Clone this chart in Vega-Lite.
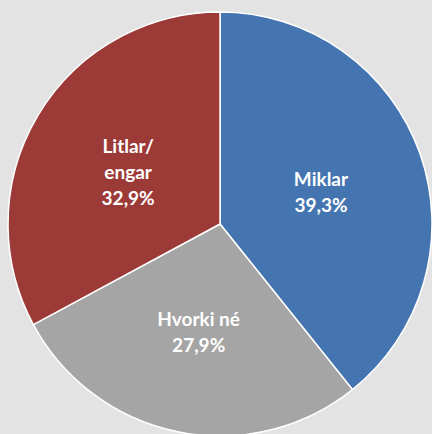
{
  "$schema": "https://vega.github.io/schema/vega-lite/v6.json",
  "width": 424,
  "height": 424,
  "autosize": {"type": "none"},
  "padding": {"left": 8, "top": 12, "right": 0, "bottom": 0},
  "background": "#e3e3e3",
  "config": {"view": {"stroke": null}},
  "data": {
    "values": [
      {"idx": 1, "category": "Miklar", "share": 39.3, "label": "Miklar\n39,3%", "lines": 2},
      {"idx": 2, "category": "Hvorki né", "share": 27.9, "label": "Hvorki né\n27,9%", "lines": 2},
      {"idx": 3, "category": "Litlar/engar", "share": 32.9, "label": "Litlar/\nengar\n32,9%", "lines": 3}
    ]
  },
  "encoding": {
    "theta": {"field": "share", "type": "quantitative", "stack": true},
    "order": {"field": "idx", "type": "quantitative", "sort": "ascending"}
  },
  "layer": [
    {
      "mark": {"type": "arc", "outerRadius": 212, "stroke": "#ffffff", "strokeWidth": 1.5},
      "encoding": {
        "color": {
          "field": "category",
          "type": "nominal",
          "scale": {"domain": ["Miklar", "Hvorki né", "Litlar/engar"], "range": ["#4575b0", "#a5a5a5", "#9c3a37"]},
          "legend": null
        }
      }
    },
    {
      "mark": {"type": "text", "radius": 107, "dy": -9, "font": "Lato", "fontWeight": "bold", "fontSize": 19, "lineHeight": 26, "lineBreak": "\n", "color": "#ffffff", "align": "center", "baseline": "middle"},
      "encoding": {
        "text": {"condition": {"test": "datum.lines == 2", "field": "label"}, "value": ""}
      }
    },
    {
      "mark": {"type": "text", "radius": 107, "dy": -22, "font": "Lato", "fontWeight": "bold", "fontSize": 19, "lineHeight": 26, "lineBreak": "\n", "color": "#ffffff", "align": "center", "baseline": "middle"},
      "encoding": {
        "text": {"condition": {"test": "datum.lines == 3", "field": "label"}, "value": ""}
      }
    }
  ]
}
